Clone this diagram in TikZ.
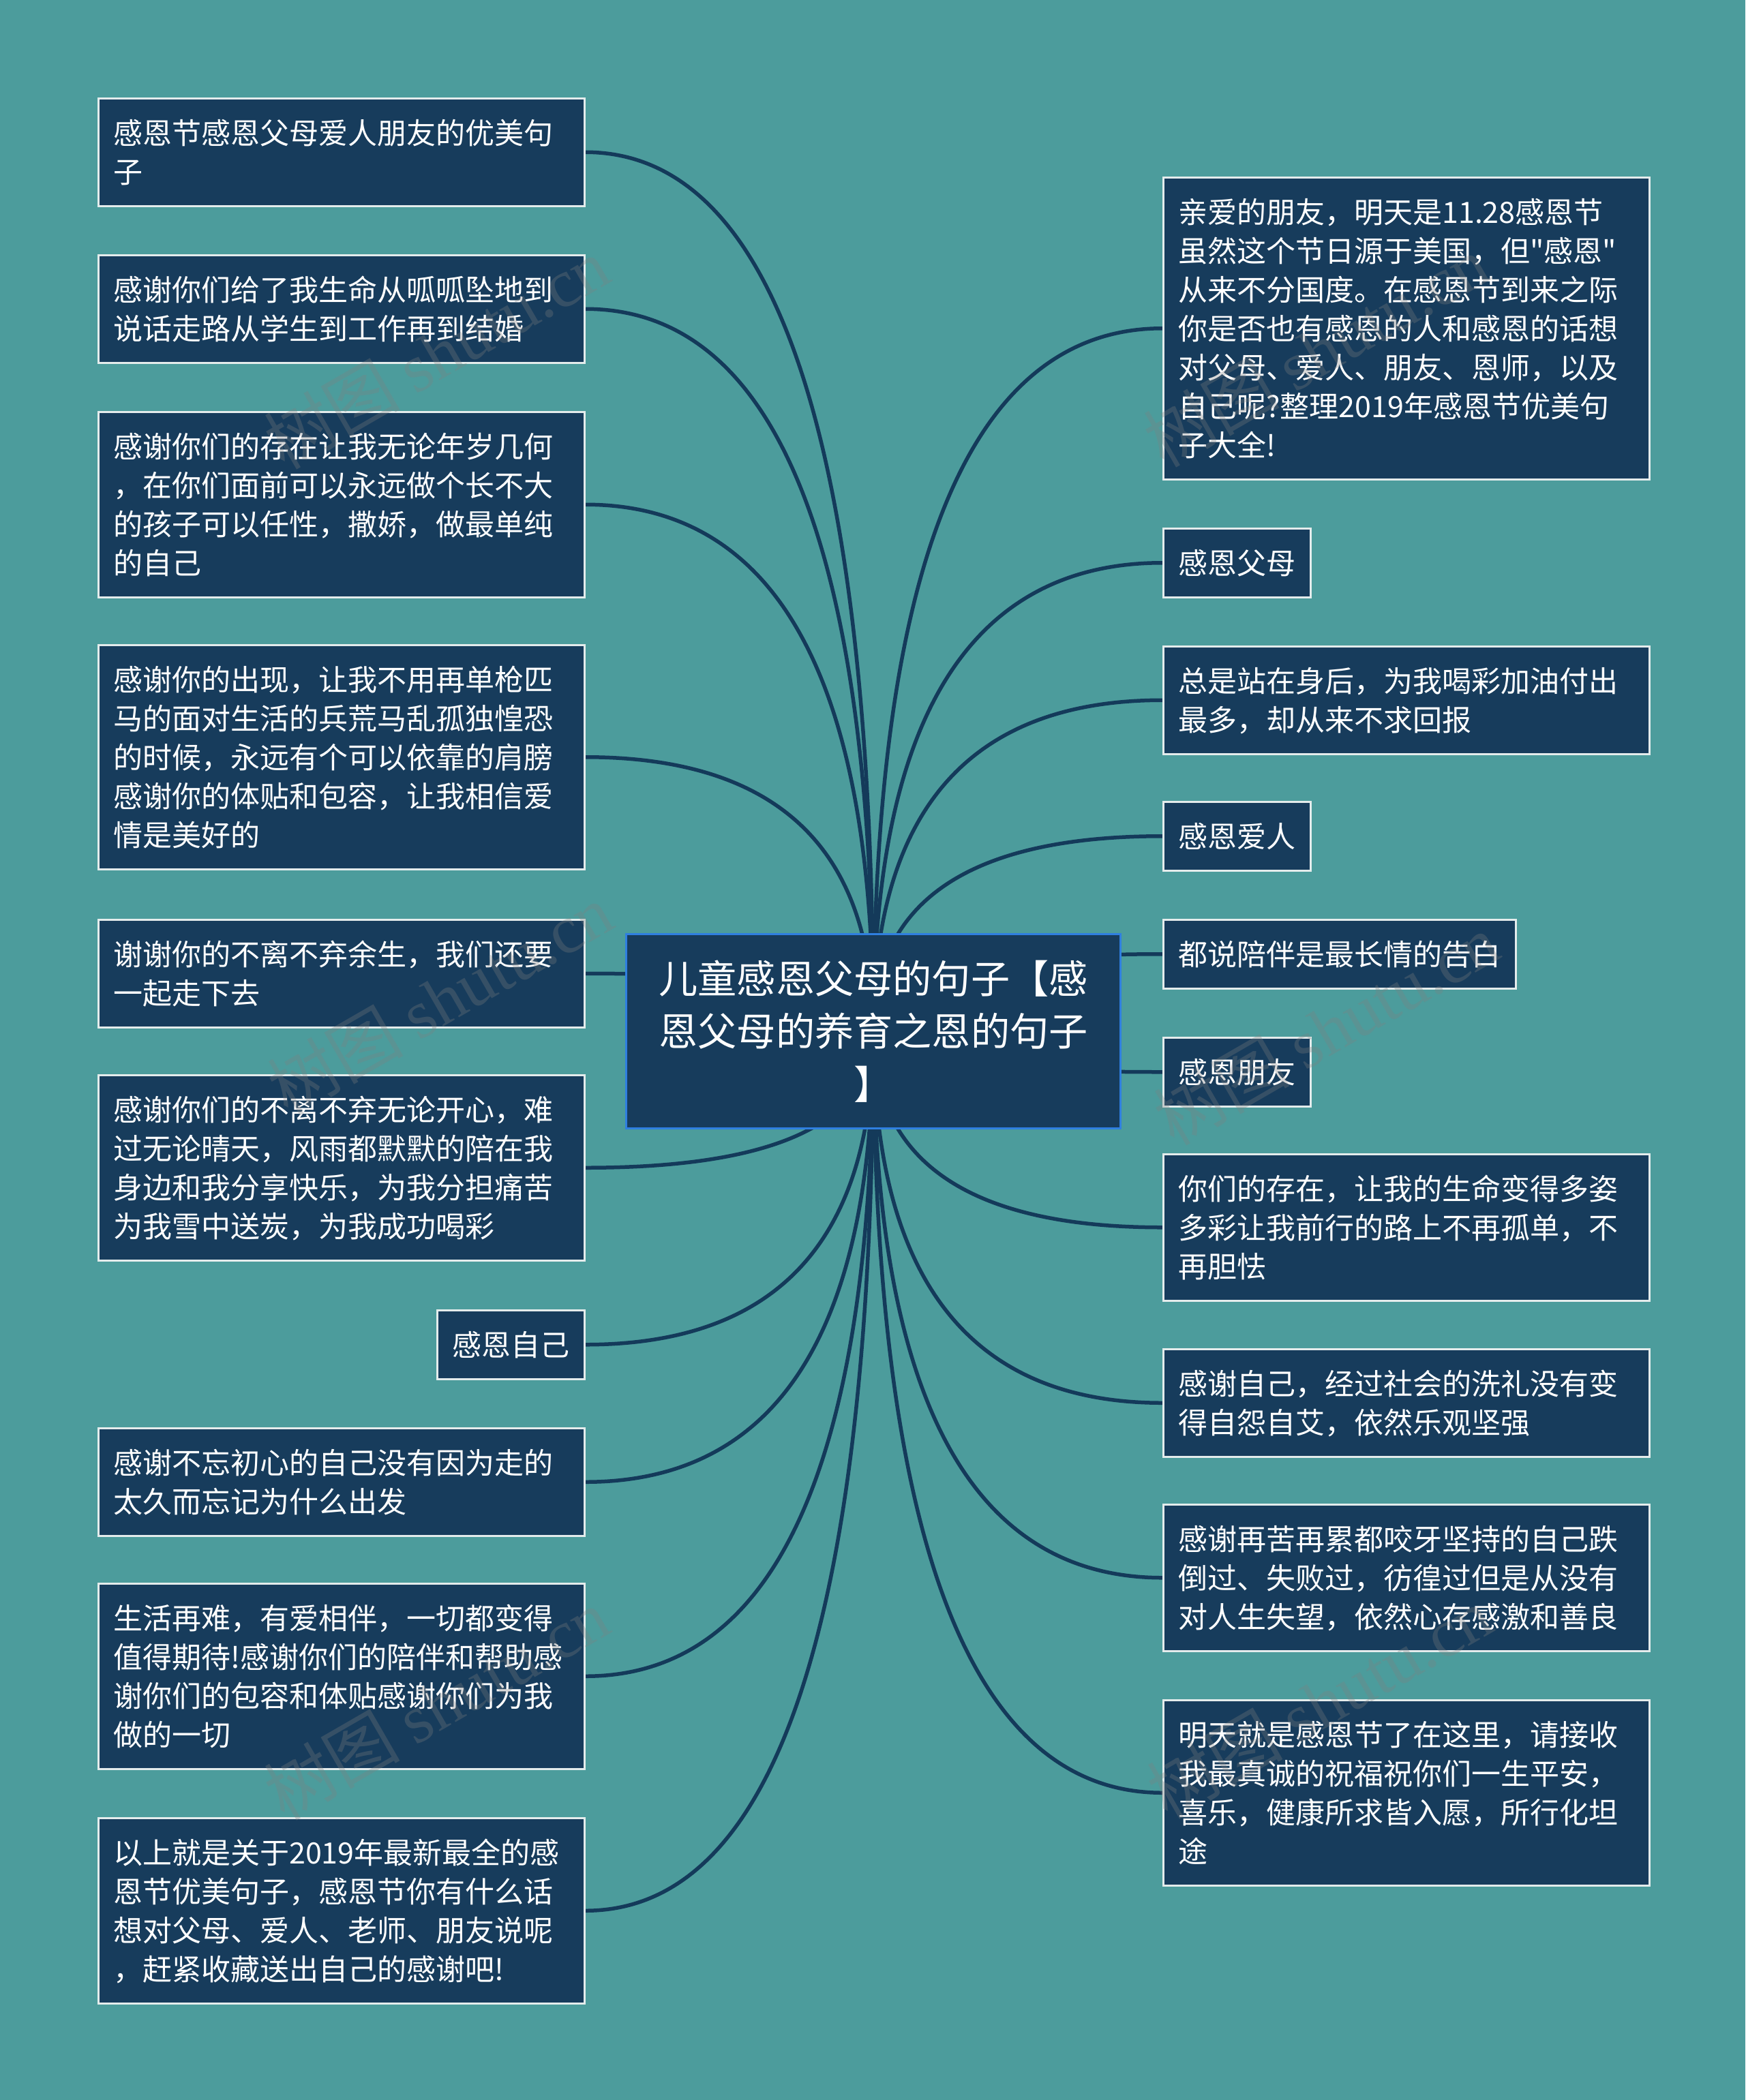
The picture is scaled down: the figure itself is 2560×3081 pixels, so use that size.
\documentclass[tikz,border=0pt]{standalone}
\usepackage{fontspec}
\newfontfamily\cjkmain{Noto Sans CJK SC}
\newfontfamily\wmlatin{Liberation Serif}
\usetikzlibrary{calc,backgrounds}
\definecolor{bgteal}{HTML}{4C9C9C}
\definecolor{navy}{HTML}{173C5C}
\definecolor{edgecol}{HTML}{143A5A}
\definecolor{rootline}{HTML}{2F7FE0}
\definecolor{boxline}{HTML}{E4ECEC}
\newcommand\leafstrut{\rule[-12pt]{0pt}{57pt}}
\newcommand\rootstrut{\rule[-17pt]{0pt}{77.5pt}}
\newcommand\mmconn[2]{%
  \path (root.center |- #1.#2) coordinate (q#1);
  \draw[link] (root.center) .. controls ($(root.center)!2/3!(q#1)$) and ($(#1.#2)!2/3!(q#1)$) .. (#1.#2);}
\begin{document}
\begin{tikzpicture}[x=1pt,y=-1pt,
  leaf/.style={draw=boxline, line width=2.5pt, fill=navy, text=white,
    font=\cjkmain\fontsize{43}{57}\selectfont, inner xsep=22pt, inner ysep=22pt,
    anchor=north west, align=left,
    execute at begin node=\leafstrut, execute at end node=\leafstrut},
  wide/.style={leaf, text width=669pt},
  root/.style={draw=rootline, line width=3pt, fill=navy, text=white,
    font=\cjkmain\fontsize{57.2}{77.5}\selectfont, text width=640pt, align=center,
    inner xsep=42.5pt, inner ysep=26pt, anchor=north west,
    execute at begin node=\rootstrut, execute at end node=\rootstrut},
  link/.style={draw=edgecol, line width=5.5pt},
  wm/.style={text=gray, opacity=0.3, font=\cjkmain\fontsize{100}{105}\selectfont, rotate=30, inner sep=0pt},
]
% root
\node[root] (root) at (917,1369) {儿童感恩父母的句子【感\\恩父母的养育之恩的句子\\】};
% left
\node[wide] (L1) at (143,143) {感恩节感恩父母爱人朋友的优美句\\子};
\node[wide] (L2) at (143,373) {感谢你们给了我生命从呱呱坠地到\\说话走路从学生到工作再到结婚};
\node[wide] (L3) at (143,603) {感谢你们的存在让我无论年岁几何\\，在你们面前可以永远做个长不大\\的孩子可以任性，撒娇，做最单纯\\的自己};
\node[wide] (L4) at (143,945) {感谢你的出现，让我不用再单枪匹\\马的面对生活的兵荒马乱孤独惶恐\\的时候，永远有个可以依靠的肩膀\\感谢你的体贴和包容，让我相信爱\\情是美好的};
\node[wide] (L5) at (143,1348) {谢谢你的不离不弃余生，我们还要\\一起走下去};
\node[wide] (L6) at (143,1576) {感谢你们的不离不弃无论开心，难\\过无论晴天，风雨都默默的陪在我\\身边和我分享快乐，为我分担痛苦\\为我雪中送炭，为我成功喝彩};
\node[leaf] (L7) at (640,1921) {感恩自己};
\node[wide] (L8) at (143,2094) {感谢不忘初心的自己没有因为走的\\太久而忘记为什么出发};
\node[wide] (L9) at (143,2322) {生活再难，有爱相伴，一切都变得\\值得期待!感谢你们的陪伴和帮助感\\谢你们的包容和体贴感谢你们为我\\做的一切};
\node[wide] (L10) at (143,2666) {以上就是关于2019年最新最全的感\\恩节优美句子，感恩节你有什么话\\想对父母、爱人、老师、朋友说呢\\，赶紧收藏送出自己的感谢吧!};
% right
\node[wide] (R1) at (1705,259) {亲爱的朋友，明天是11.28感恩节\\虽然这个节日源于美国，但"感恩"\\从来不分国度。在感恩节到来之际\\你是否也有感恩的人和感恩的话想\\对父母、爱人、朋友、恩师，以及\\自己呢?整理2019年感恩节优美句\\子大全!};
\node[leaf] (R2) at (1705,774) {感恩父母};
\node[wide] (R3) at (1705,947) {总是站在身后，为我喝彩加油付出\\最多，却从来不求回报};
\node[leaf] (R4) at (1705,1175) {感恩爱人};
\node[leaf] (R5) at (1705,1348) {都说陪伴是最长情的告白};
\node[leaf] (R6) at (1705,1521) {感恩朋友};
\node[wide] (R7) at (1705,1692) {你们的存在，让我的生命变得多姿\\多彩让我前行的路上不再孤单，不\\再胆怯};
\node[wide] (R8) at (1705,1978) {感谢自己，经过社会的洗礼没有变\\得自怨自艾，依然乐观坚强};
\node[wide] (R9) at (1705,2206) {感谢再苦再累都咬牙坚持的自己跌\\倒过、失败过，彷徨过但是从没有\\对人生失望，依然心存感激和善良};
\node[wide] (R10) at (1705,2493) {明天就是感恩节了在这里，请接收\\我最真诚的祝福祝你们一生平安，\\喜乐，健康所求皆入愿，所行化坦\\途};
% background and connectors
\begin{scope}[on background layer]
  \fill[bgteal] (0,0) rectangle (2560,3081);
  \useasboundingbox (0,0) rectangle (2560,3081);
  \mmconn{L1}{east}\mmconn{L2}{east}\mmconn{L3}{east}\mmconn{L4}{east}\mmconn{L5}{east}
  \mmconn{L6}{east}\mmconn{L7}{east}\mmconn{L8}{east}\mmconn{L9}{east}\mmconn{L10}{east}
  \mmconn{R1}{west}\mmconn{R2}{west}\mmconn{R3}{west}\mmconn{R4}{west}\mmconn{R5}{west}
  \mmconn{R6}{west}\mmconn{R7}{west}\mmconn{R8}{west}\mmconn{R9}{west}\mmconn{R10}{west}
\end{scope}
% watermarks
\node[wm] (wm1) at (640,518) {树图 {\wmlatin shutu.cn}};
\node[wm] (wm2) at (645,1466) {树图 {\wmlatin shutu.cn}};
\node[wm] (wm3) at (640,2500) {树图 {\wmlatin shutu.cn}};
\node[wm] (wm4) at (1930,515) {树图 {\wmlatin shutu.cn}};
\node[wm] (wm5) at (1945,1510) {树图 {\wmlatin shutu.cn}};
\node[wm] (wm6) at (1935,2498) {树图 {\wmlatin shutu.cn}};
\end{tikzpicture}
\end{document}
